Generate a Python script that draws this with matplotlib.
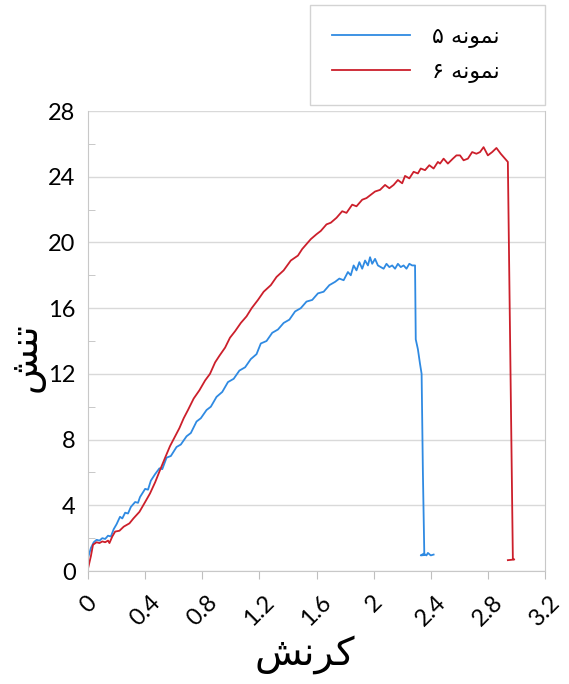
import matplotlib
matplotlib.use("Agg")
import matplotlib.pyplot as plt
from matplotlib.ticker import MultipleLocator

# sample 5 (blue)
x5 = [0, 0.02, 0.04, 0.06, 0.08, 0.10, 0.12, 0.14, 0.16, 0.18, 0.20, 0.224, 0.24, 0.26, 0.28, 0.30,
      0.33, 0.35, 0.364, 0.40, 0.42, 0.44, 0.47, 0.50, 0.52, 0.55, 0.58, 0.62, 0.65, 0.69, 0.72,
      0.76, 0.79, 0.83, 0.86, 0.90, 0.94, 0.98, 1.02, 1.06, 1.10, 1.14, 1.18, 1.21, 1.25, 1.29,
      1.33, 1.37, 1.41, 1.45, 1.49, 1.53, 1.57, 1.61, 1.65, 1.69, 1.73, 1.76, 1.79, 1.82, 1.84,
      1.86, 1.88, 1.90, 1.92, 1.94, 1.96, 1.975, 1.99, 2.01, 2.03, 2.05, 2.07, 2.09, 2.11, 2.13,
      2.15, 2.17, 2.19, 2.21, 2.23, 2.25, 2.27, 2.29, 2.295, 2.31, 2.325, 2.336, 2.345, 2.355,
      2.33, 2.35, 2.37, 2.38, 2.40, 2.42]
y5 = [0.8, 1.4, 1.75, 1.9, 1.85, 2.0, 1.95, 2.15, 2.1, 2.55, 2.85, 3.3, 3.2, 3.55, 3.5, 3.9,
      4.2, 4.15, 4.5, 5.0, 4.95, 5.5, 5.9, 6.25, 6.2, 6.9, 7.0, 7.55, 7.7, 8.2, 8.4,
      9.1, 9.3, 9.8, 10.0, 10.6, 10.9, 11.5, 11.7, 12.2, 12.4, 12.9, 13.2, 13.85, 14.0, 14.5,
      14.7, 15.1, 15.3, 15.8, 16.0, 16.4, 16.5, 16.9, 17.0, 17.4, 17.6, 17.8, 17.7, 18.2, 18.0,
      18.6, 18.3, 18.8, 18.4, 18.9, 18.6, 19.1, 18.7, 19.0, 18.6, 18.5, 18.4, 18.7, 18.5, 18.6,
      18.4, 18.7, 18.5, 18.6, 18.4, 18.7, 18.6, 18.6, 14.1, 13.5, 12.6, 12.0, 6.0, 0.97,
      0.95, 1.05, 0.95, 1.1, 0.95, 1.0]

# sample 6 (red)
x6 = [0, 0.02, 0.035, 0.06, 0.08, 0.10, 0.12, 0.14, 0.15, 0.17, 0.19, 0.22, 0.25, 0.29, 0.318,
      0.36, 0.40, 0.434, 0.47, 0.504, 0.54, 0.574, 0.61, 0.64, 0.67, 0.70, 0.74, 0.78, 0.82,
      0.854, 0.89, 0.92, 0.96, 0.994, 1.03, 1.07, 1.11, 1.146, 1.19, 1.23, 1.28, 1.32, 1.37,
      1.42, 1.47, 1.50, 1.53, 1.56, 1.60, 1.63, 1.67, 1.70, 1.74, 1.78, 1.81, 1.85, 1.88, 1.92,
      1.95, 1.98, 2.01, 2.045, 2.08, 2.11, 2.14, 2.17, 2.20, 2.22, 2.25, 2.28, 2.31, 2.33, 2.36,
      2.39, 2.42, 2.45, 2.465, 2.49, 2.52, 2.555, 2.58, 2.605, 2.63, 2.66, 2.69, 2.72, 2.745,
      2.77, 2.80, 2.83, 2.86, 2.89, 2.91, 2.94, 2.975, 2.985, 2.94]
y6 = [0.15, 0.9, 1.6, 1.75, 1.7, 1.8, 1.75, 1.85, 1.7, 2.1, 2.4, 2.45, 2.7, 2.9, 3.2,
      3.6, 4.2, 4.72, 5.4, 6.14, 6.9, 7.6, 8.2, 8.7, 9.3, 9.8, 10.5, 11.0, 11.6,
      12.0, 12.7, 13.1, 13.6, 14.2, 14.6, 15.1, 15.5, 16.0, 16.5, 17.0, 17.4, 17.9, 18.3,
      18.9, 19.2, 19.6, 19.9, 20.2, 20.5, 20.7, 21.1, 21.2, 21.5, 21.9, 21.8, 22.3, 22.2, 22.6,
      22.7, 22.9, 23.1, 23.2, 23.5, 23.3, 23.5, 23.8, 23.6, 24.05, 23.9, 24.3, 24.2, 24.5, 24.4,
      24.7, 24.5, 24.9, 24.8, 25.1, 24.8, 25.1, 25.3, 25.3, 25.0, 25.1, 25.5, 25.4, 25.5,
      25.8, 25.3, 25.5, 25.75, 25.4, 25.2, 24.9, 0.75, 0.7, 0.66]

x_ticks = [0, 0.4, 0.8, 1.2, 1.6, 2, 2.4, 2.8, 3.2]
x_tick_labels = ['0', '0.4', '0.8', '1.2', '1.6', '2', '2.4', '2.8', '3.2']
y_ticks = [0, 4, 8, 12, 16, 20, 24, 28]

labels = ['نمونه ۵', 'نمونه ۶']
x_title = 'کرنش'
y_title = 'تنش'

# arabic shaping by hand (matplotlib has no text shaping)
FORMS = {
    'ک': ('\uFB8E', '\uFB8F', '\uFB90', '\uFB91'),
    'ر': ('\uFEAD', '\uFEAE', None, None),
    'ن': ('\uFEE5', '\uFEE6', '\uFEE7', '\uFEE8'),
    'ش': ('\uFEB5', '\uFEB6', '\uFEB7', '\uFEB8'),
    'ت': ('\uFE95', '\uFE96', '\uFE97', '\uFE98'),
    'م': ('\uFEE1', '\uFEE2', '\uFEE3', '\uFEE4'),
    'و': ('\uFEED', '\uFEEE', None, None),
    'ه': ('\uFEE9', '\uFEEA', '\uFEEB', '\uFEEC'),
}


def shape(s):
    out = []
    for i, c in enumerate(s):
        if c not in FORMS:
            out.append(c)
            continue
        prev = s[i - 1] if i > 0 else ''
        nxt = s[i + 1] if i < len(s) - 1 else ''
        jp = prev in FORMS and FORMS[prev][2] is not None
        jn = FORMS[c][2] is not None and nxt in FORMS
        f = FORMS[c]
        if jp and jn:
            out.append(f[3])
        elif jp:
            out.append(f[1])
        elif jn:
            out.append(f[2])
        else:
            out.append(f[0])
    return ''.join(out[::-1])


plt.rcParams['font.family'] = ['DejaVu Sans']
tick_font = ['Lato', 'DejaVu Sans']

fig = plt.figure(figsize=(5.69, 6.84), dpi=100)
ax = fig.add_axes([0.1547, 0.1652, 0.8031, 0.6725])

ax.plot(x5, y5, color='#2f8ae2', lw=1.3, label=shape(labels[0]))
ax.plot(x6, y6, color='#cc1f2b', lw=1.3, label=shape(labels[1]))

ax.set_xlim(0, 3.2)
ax.set_ylim(0, 28)
ax.set_yticks(y_ticks)
ax.set_yticklabels([str(v) for v in y_ticks], family=tick_font)
ax.yaxis.set_minor_locator(MultipleLocator(2))
ax.set_xticks(x_ticks)
ax.set_xticklabels(x_tick_labels, rotation=45, ha='center', va='top', family=tick_font)
ax.tick_params(axis='x', length=6, color='#bfbfbf', labelsize=17, pad=9)
ax.tick_params(axis='y', which='major', length=0, labelsize=17, pad=9)
ax.tick_params(axis='y', which='minor', direction='in', length=5, color='#bfbfbf')
ax.grid(axis='y', color='#d9d9d9', lw=1)
ax.set_axisbelow(True)
for s in ['left', 'bottom', 'right']:
    ax.spines[s].set_color('#c8c8c8')
ax.spines['top'].set_visible(False)

ax.set_xlabel(shape(x_title), fontsize=28)
ax.xaxis.set_label_coords(0.475, -0.14)
ax.set_ylabel(shape(y_title), fontsize=27)
ax.yaxis.set_label_coords(-0.094, 0.464)

leg = fig.legend(loc='upper left', bbox_to_anchor=(0.545, 0.842, 0.413, 0.151), mode='expand',
                 fontsize=16, frameon=True, fancybox=False, borderaxespad=0, borderpad=1.0,
                 labelspacing=0.62, handlelength=3.5, handletextpad=1.0)
leg.get_frame().set_edgecolor('#c8c8c8')
leg.get_frame().set_linewidth(1)

plt.savefig('out.png', dpi=100)
